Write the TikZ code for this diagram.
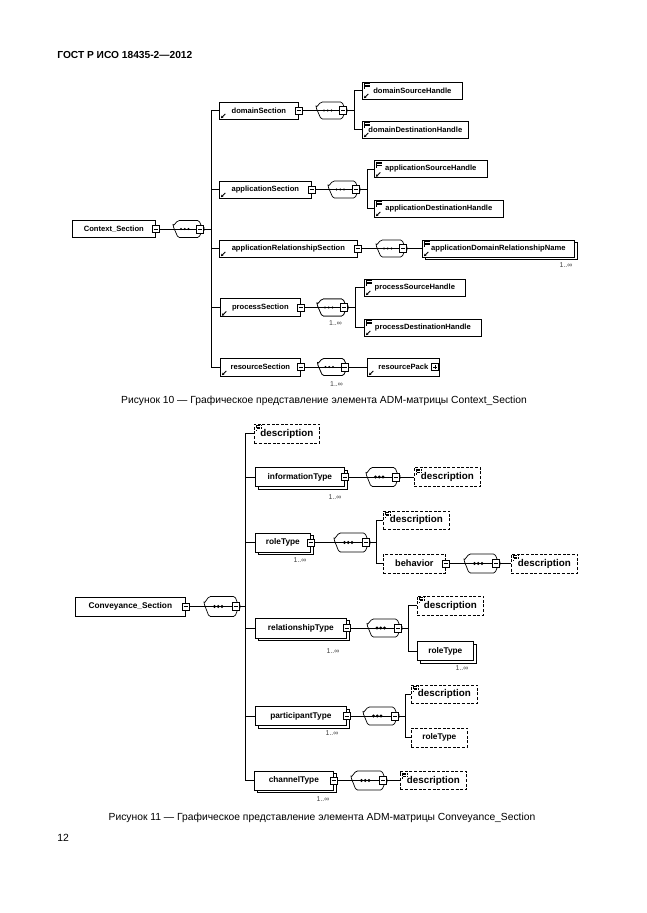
\documentclass[tikz,border=0pt]{standalone}
\usepackage{fontspec}
\setmainfont{Liberation Sans}
\usetikzlibrary{positioning}
\usetikzlibrary{shadows}
\usetikzlibrary{arrows.meta}

% small icons inside the element boxes
\newcommand{\refsign}{%
	\draw[line width=0.9pt, -{Stealth[length=2.4pt,width=2.6pt]}]
		([shift={(6pt,5pt)}]path picture bounding box.south west) --
		([shift={(1.5pt,0.8pt)}]path picture bounding box.south west);}
\newcommand{\docsign}{%
	\draw[line width=0.5pt] ([shift={(1.8pt,-1.2pt)}]path picture bounding box.north west) -- ++(0pt,-6pt);
	\foreach \k in {1.6pt,3.2pt,4.8pt}
		\draw[line width=0.7pt] ([shift={(2.3pt,-\k)}]path picture bounding box.north west) -- ++(5pt,0pt);}
% outline of a sequence compositor round an (invisible) node
\newcommand{\seqoutline}[1]{%
	(#1.west) ++(0pt,3pt) -- ([xshift=5pt]#1.north west) -- ([xshift=-5pt]#1.north east)
	-- ([yshift=-3pt]#1.east) -- ([yshift=3pt]#1.east) -- ([xshift=-5pt]#1.south east)
	-- ([xshift=5pt]#1.south west) -- ([yshift=3pt]#1.west) -- cycle}
\newcommand{\seqshape}[2][1.2pt]{%
	\draw [fill=white, rounded corners=1.5pt] \seqoutline{#2};
	\foreach \k in {-7.5pt,-3.75pt,0pt} \fill ([xshift=\k]#2.center) circle (#1);}
\newcommand{\seqmany}[2][1.2pt]{%
	\draw [fill=white, rounded corners=1.5pt, shift={(2.5pt,-2.5pt)}] \seqoutline{#2};
	\seqshape[#1]{#2}}

\tikzset{
	every path/.style={line width=0.7pt},
	elem/.style={draw, fill=white, anchor=west, inner sep=0pt, minimum height=17pt,
		font=\fontsize{7.6}{9}\selectfont\bfseries},
	refbox/.style={elem, path picture={\refsign}},
	leafbox/.style={elem, path picture={\refsign\docsign}},
	manybox/.style={copy shadow={shadow xshift=2.5pt, shadow yshift=-2.5pt}},
	plainbox/.style={elem, minimum height=19pt, font=\fontsize{8.3}{10}\selectfont\bfseries},
	optbox/.style={plainbox, dash pattern=on 3pt off 1.6pt},
	descbox/.style={optbox, path picture={\docsign}, font=\fontsize{9.8}{11}\selectfont\bfseries},
	minus/.style={draw, fill=white, inner sep=0pt, minimum width=7pt, minimum height=7pt, line width=0.6pt,
		path picture={\draw[line width=0.6pt] ([xshift=1.4pt]path picture bounding box.west) -- ([xshift=-1.4pt]path picture bounding box.east);}},
	plus/.style={minus, path picture={
		\draw[line width=0.6pt] ([xshift=1.4pt]path picture bounding box.west) -- ([xshift=-1.4pt]path picture bounding box.east);
		\draw[line width=0.6pt] ([yshift=1.4pt]path picture bounding box.south) -- ([yshift=-1.4pt]path picture bounding box.north);}},
	seq/.style={rectangle, inner sep=0pt, outer sep=0pt, minimum width=31pt, minimum height=17pt},
	seqm/.style={minus, minimum height=8pt},
	mult/.style={font=\fontsize{7}{8}\selectfont, text=black!75, inner sep=0pt},
	caption/.style={font=\fontsize{10.3}{12}\selectfont, inner sep=0pt},
}

\begin{document}
\begin{tikzpicture}[x=1pt,y=-1pt]
	\useasboundingbox (0,0) rectangle (646,913);
	\fill [white] (0,0) rectangle (646,913);

	% header.....................
	\node [anchor=west, inner sep=0pt, font=\fontsize{10.2}{12}\selectfont\bfseries] (gost) at (57,55) {ГОСТ Р ИСО 18435-2—2012};

	%%%%%%%%%%%%%%%%%%%% Context_Section %%%%%%%%%%%%%%%%%%%%
	\node [elem, minimum width=83pt] (ctx) at (72,229) {Context\_Section};
	\node [minus] (ctx-m) at (ctx.east) {};
	\node [seq] (seq0) at (188.5,229) {};
	\seqshape{seq0}
	\node [seqm] (seq0-m) at ([xshift=-4pt]seq0.east) {};
	\draw (ctx-m) -- (seq0-m);

	% domainSection.....................
	\node [refbox, minimum width=79pt] (dsec) at (219,110.5) {domainSection};
	\node [minus] (dsec-m) at (dsec.east) {};
	\node [seq] (seq1) at (331.5,110.5) {};
	\seqshape{seq1}
	\node [seqm] (seq1-m) at ([xshift=-4pt]seq1.east) {};
	\draw (dsec-m) -- (seq1-m);
	\node [leafbox, minimum width=100pt] (dsrc) at (362,90.5) {domainSourceHandle};
	\node [leafbox, minimum width=106pt] (ddst) at (362,129.5) {domainDestinationHandle};
	\draw (seq1-m.east) -- ++(8,0) |- (dsrc.west);
	\draw (seq1-m.east) -- ++(8,0) |- (ddst.west);

	% applicationSection.....................
	\node [refbox, minimum width=92pt] (asec) at (219,189.5) {applicationSection};
	\node [minus] (asec-m) at (asec.east) {};
	\node [seq, minimum width=32pt] (seq2) at (344,189.5) {};
	\seqshape{seq2}
	\node [seqm] (seq2-m) at ([xshift=-4pt]seq2.east) {};
	\draw (asec-m) -- (seq2-m);
	\node [leafbox, minimum width=113pt] (asrc) at (374,169) {applicationSourceHandle};
	\node [leafbox, minimum width=129pt] (adst) at (374,208.5) {applicationDestinationHandle};
	\draw (seq2-m.east) -- ++(7.5,0) |- (asrc.west);
	\draw (seq2-m.east) -- ++(7.5,0) |- (adst.west);

	% applicationRelationshipSection.....................
	\node [refbox, minimum width=138pt] (arsec) at (219,248.5) {applicationRelationshipSection};
	\node [minus] (arsec-m) at (arsec.east) {};
	\node [seq] (seq3) at (391.5,248.5) {};
	\seqshape{seq3}
	\node [seqm] (seq3-m) at ([xshift=-4pt]seq3.east) {};
	\draw (arsec-m) -- (seq3-m);
	\node [leafbox, manybox, minimum width=152pt] (adrn) at (422,248.5) {applicationDomainRelationshipName};
	\draw (seq3-m) -- (adrn);
	\node [mult] (adrn-n) at (566,265) {1..∞};

	% processSection.....................
	\node [refbox, minimum width=80pt, minimum height=18pt] (psec) at (220,307.5) {processSection};
	\node [minus] (psec-m) at (psec.east) {};
	\node [seq] (seq4) at (332.5,307.5) {};
	\seqmany{seq4}
	\node [seqm] (seq4-m) at ([xshift=-4pt]seq4.east) {};
	\draw (psec-m) -- (seq4-m);
	\node [mult] (seq4-n) at (335.5,323) {1..∞};
	\node [leafbox, minimum width=101pt] (psrc) at (364,287.5) {processSourceHandle};
	\node [leafbox, minimum width=117pt] (pdst) at (364,327.5) {processDestinationHandle};
	\draw (seq4-m.east) -- ++(8,0) |- (psrc.west);
	\draw (seq4-m.east) -- ++(8,0) |- (pdst.west);

	% resourceSection.....................
	\node [refbox, minimum width=80pt, minimum height=18pt] (rsec) at (220,367) {resourceSection};
	\node [minus] (rsec-m) at (rsec.east) {};
	\node [seq] (seq5) at (333,367) {};
	\seqmany{seq5}
	\node [seqm] (seq5-m) at ([xshift=-4pt]seq5.east) {};
	\draw (rsec-m) -- (seq5-m);
	\node [mult] (seq5-n) at (336.5,384) {1..∞};
	\node [refbox, minimum width=72pt, minimum height=18pt] (rpack) at (367,367) {resourcePack\hspace{8pt}};
	\node [plus] (rpack-p) at ([xshift=-4.5pt]rpack.east) {};
	\draw (seq5-m) -- (rpack);

	% spine of Context_Section.....................
	\foreach \child in {dsec,asec,arsec,psec,rsec}
		\draw (seq0-m.east) -- ++(8,0) |- (\child.west);

	\node [caption] (cap10) at (324,401) {Рисунок 10 — Графическое представление элемента ADM-матрицы Context\_Section};

	%%%%%%%%%%%%%%%%%%%% Conveyance_Section %%%%%%%%%%%%%%%%%%%%
	\node [plainbox, minimum width=110pt] (conv) at (75,606.5) {Conveyance\_Section};
	\node [minus] (conv-m) at (conv.east) {};
	\node [seq, minimum width=36pt, minimum height=20pt] (cseq0) at (222,606.5) {};
	\seqshape[1.6pt]{cseq0}
	\node [seqm] (cseq0-m) at ([xshift=-4pt]cseq0.east) {};
	\draw (conv-m) -- (cseq0-m);

	% description.....................
	\node [descbox, minimum width=65pt] (cdesc0) at (254,433.5) {description};

	% informationType.....................
	\node [plainbox, manybox, minimum width=89pt] (info) at (255,477) {informationType};
	\node [minus] (info-m) at (info.east) {};
	\node [mult] (info-n) at (335,497) {1..∞};
	\node [seq, minimum width=34pt, minimum height=19pt] (cseq1) at (383,477) {};
	\seqshape[1.6pt]{cseq1}
	\node [seqm] (cseq1-m) at ([xshift=-4pt]cseq1.east) {};
	\draw (info-m) -- (cseq1-m);
	\node [descbox, minimum width=66pt] (cdesc1) at (414,477) {description};
	\draw (cseq1-m) -- (cdesc1);

	% roleType.....................
	\node [plainbox, manybox, minimum width=55pt] (role) at (255,542.5) {roleType};
	\node [minus] (role-m) at (role.east) {};
	\node [mult] (role-n) at (300,560) {1..∞};
	\node [seq, minimum width=36pt, minimum height=19pt] (cseq2) at (352,542.5) {};
	\seqshape[1.6pt]{cseq2}
	\node [seqm] (cseq2-m) at ([xshift=-4pt]cseq2.east) {};
	\draw (role-m) -- (cseq2-m);
	\node [descbox, minimum width=66pt, minimum height=18pt] (cdesc2) at (383,520) {description};
	\node [optbox, minimum width=62pt, font=\fontsize{9.2}{11}\selectfont\bfseries] (behav) at (383,563.5) {behavior\hspace{6pt}};
	\node [minus] (behav-m) at (behav.east) {};
	\draw (cseq2-m.east) -- ++(7,0) |- (cdesc2.west);
	\draw (cseq2-m.east) -- ++(7,0) |- (behav.west);
	\node [seq, minimum width=36pt, minimum height=19pt] (cseq3) at (482,563.5) {};
	\seqshape[1.6pt]{cseq3}
	\node [seqm] (cseq3-m) at ([xshift=-4pt]cseq3.east) {};
	\draw (behav-m) -- (cseq3-m);
	\node [descbox, minimum width=66pt] (cdesc3) at (511,563.5) {description};
	\draw (cseq3-m) -- (cdesc3);

	% relationshipType.....................
	\node [plainbox, manybox, minimum width=91pt, minimum height=20pt] (rel) at (255,628) {relationshipType};
	\node [minus] (rel-m) at (rel.east) {};
	\node [mult] (rel-n) at (333,651) {1..∞};
	\node [seq, minimum width=35pt, minimum height=18pt] (cseq4) at (384.5,628) {};
	\seqshape[1.6pt]{cseq4}
	\node [seqm] (cseq4-m) at ([xshift=-4pt]cseq4.east) {};
	\draw (rel-m) -- (cseq4-m);
	\node [descbox, minimum width=66pt] (cdesc4) at (417,605.5) {description};
	\node [plainbox, manybox, minimum width=56pt] (relrole) at (417,651) {roleType};
	\node [mult] (relrole-n) at (462,668) {1..∞};
	\draw (cseq4-m.east) -- ++(7,0) |- (cdesc4.west);
	\draw (cseq4-m.east) -- ++(7,0) |- (relrole.west);

	% participantType.....................
	\node [plainbox, manybox, minimum width=91pt] (part) at (255,716) {participantType};
	\node [minus] (part-m) at (part.east) {};
	\node [mult] (part-n) at (332,733) {1..∞};
	\node [seq, minimum width=36pt, minimum height=18pt] (cseq5) at (381,716) {};
	\seqshape[1.6pt]{cseq5}
	\node [seqm] (cseq5-m) at ([xshift=-4pt]cseq5.east) {};
	\draw (part-m) -- (cseq5-m);
	\node [descbox, minimum width=66pt, minimum height=18pt] (cdesc5) at (411,694) {description};
	\node [optbox, minimum width=56pt] (partrole) at (411,737.5) {roleType};
	\draw (cseq5-m.east) -- ++(7,0) |- (cdesc5.west);
	\draw (cseq5-m.east) -- ++(7,0) |- (partrole.west);

	% channelType.....................
	\node [plainbox, manybox, minimum width=79pt] (chan) at (254,780.5) {channelType};
	\node [minus] (chan-m) at (chan.east) {};
	\node [mult] (chan-n) at (323,799) {1..∞};
	\node [seq, minimum width=36pt, minimum height=19pt] (cseq6) at (369,780.5) {};
	\seqshape[1.6pt]{cseq6}
	\node [seqm] (cseq6-m) at ([xshift=-4pt]cseq6.east) {};
	\draw (chan-m) -- (cseq6-m);
	\node [descbox, minimum width=66pt, minimum height=18pt] (cdesc6) at (400,780.5) {description};
	\draw (cseq6-m) -- (cdesc6);

	% spine of Conveyance_Section.....................
	\foreach \child in {cdesc0,info,role,rel,part,chan}
		\draw (cseq0-m.east) -- ++(6,0) |- (\child.west);

	\node [caption] (cap11) at (322,818) {Рисунок 11 — Графическое представление элемента ADM-матрицы Conveyance\_Section};

	% page number.....................
	\node [anchor=west, inner sep=0pt, font=\fontsize{10.4}{12}\selectfont] (pagenum) at (57,838) {12};
\end{tikzpicture}
\end{document}
